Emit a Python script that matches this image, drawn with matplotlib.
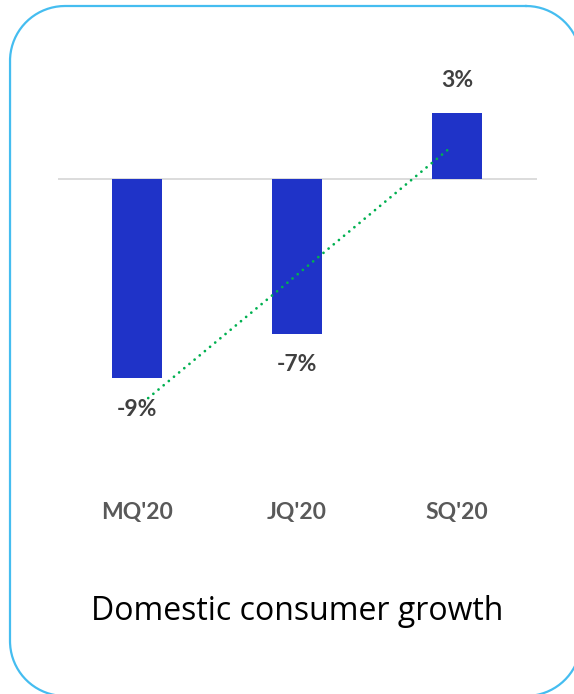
import numpy as np
import matplotlib
matplotlib.use("Agg")
import matplotlib.pyplot as plt

# Quarterly domestic consumer growth (%)
quarters = ["MQ'20", "JQ'20", "SQ'20"]
growth = [-9, -7, 3]
value_labels = ["-9%", "-7%", "3%"]
title = "Domestic consumer growth"

W, H, DPI = 574, 694, 100
fig = plt.figure(figsize=(W / DPI, H / DPI), dpi=DPI)
fig.patch.set_facecolor("white")

# Chart axes fill the whole figure; limits set so bars land where wanted
ax = fig.add_axes([0, 0, 1, 1])
px_x = 160.0   # pixels per category step
px_y = 22.1    # pixels per percentage point
x0_px, base_px = 137.0, 179.0
ax.set_xlim(-x0_px / px_x, (W - x0_px) / px_x)
ax.set_ylim(-(H - base_px) / px_y, base_px / px_y)
ax.axis("off")

x = np.arange(len(quarters))
bar_color = "#1F33C8"
ax.bar(x, growth, width=50 / px_x, color=bar_color, zorder=2)

# zero baseline
ax.plot([-0.494, 2.5], [0, 0], color="#D9D9D9", lw=1.3, zorder=1,
        solid_capstyle="butt")

# linear trend through the bar values
slope, intercept = np.polyfit(x, growth, 1)
tx = np.array([0.07, 1.97])
ax.plot(tx, slope * tx + intercept, color="#00B050", lw=2.0,
        linestyle=(0, (0.01, 2.4)), dash_capstyle="round", zorder=3)

label_font = ["Lato", "DejaVu Sans"]
for xi, v, lab in zip(x, growth, value_labels):
    off = 23.5 if v > 0 else -22.5
    ax.annotate(lab, (xi, v), xytext=(0, off), textcoords="offset points",
                ha="center", va="center", fontsize=16.5, fontweight="bold",
                color="#404040", family=label_font, zorder=4)

# category labels under the chart
cat_y = -(512 - base_px) / px_y
for xi, q in zip(x, quarters):
    ax.text(xi, cat_y, q, ha="center", va="center", fontsize=16.5,
            fontweight="bold", color="#595959", family=label_font)

# overlay in pixel units (y down) for the rounded frame and title
ov = fig.add_axes([0, 0, 1, 1], zorder=5)
ov.set_xlim(0, W)
ov.set_ylim(H, 0)
ov.axis("off")
ov.patch.set_alpha(0)


def rounded_rect(left, top, right, bottom, r, n=40):
    pts = []
    corners = [((right - r, top + r), -90, 0),
               ((right - r, bottom - r), 0, 90),
               ((left + r, bottom - r), 90, 180),
               ((left + r, top + r), 180, 270)]
    for (cx, cy), a0, a1 in corners:
        t = np.radians(np.linspace(a0, a1, n))
        pts.append(np.column_stack([cx + r * np.cos(t), cy + r * np.sin(t)]))
    pts = np.vstack(pts + [pts[0][:1]])
    return pts[:, 0], pts[:, 1]


fx, fy = rounded_rect(10, 6, 581, 696, 55)
ov.plot(fx, fy, color="#45BDF0", lw=1.6, clip_on=False,
        solid_joinstyle="round")
ov.text(297, 612, title, ha="center", va="center", fontsize=23,
        color="black", family=["Open Sans", "DejaVu Sans"])

fig.savefig("out.png", dpi=DPI, facecolor="white")
